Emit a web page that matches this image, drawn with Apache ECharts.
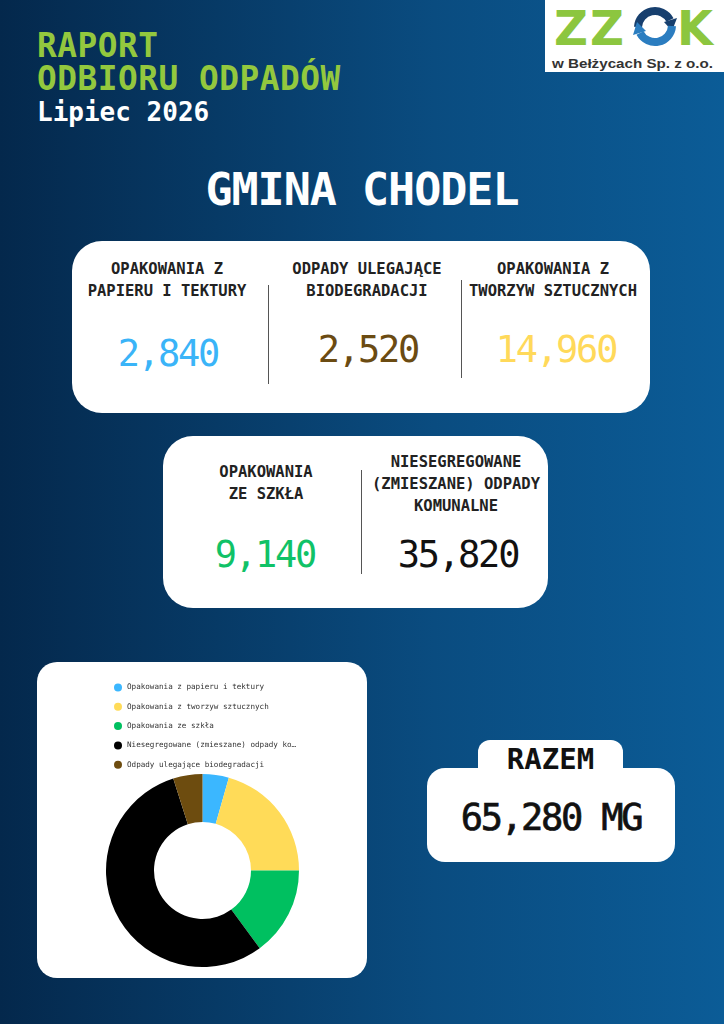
<!DOCTYPE html>
<html lang="pl">
<head>
<meta charset="utf-8">
<script src="https://cdn.jsdelivr.net/npm/echarts@6/dist/echarts.min.js"></script>
<style>
  html, body { margin: 0; padding: 0; }
  body { width: 724px; height: 1024px; overflow: hidden; }
  #page { position: relative; width: 724px; height: 1024px;
    background: linear-gradient(90deg, #04284c 0%, #0a4c80 60%, #0b5c97 100%);
    font-family: "DejaVu Sans Mono", monospace; }
  .abs { position: absolute; }
  .card { position: absolute; background: #fff; }
  .lbl { position: absolute; font-weight: bold; font-size: 15.5px; line-height: 22px; color: #222; text-align: center; white-space: nowrap; }
  .num { position: absolute; font-size: 37px; line-height: 40px; letter-spacing: -2.2px; text-align: center; white-space: nowrap; }
  .div { position: absolute; width: 1.5px; background: #555; }
</style>
</head>
<body>
<div id="page">
  <div class="abs" style="left:37px;top:29.5px;font-size:32.8px;line-height:33.2px;letter-spacing:0.5px;font-weight:bold;color:#93c83e;white-space:nowrap;" id="title"></div>
  <div class="abs" style="left:37px;top:99px;font-size:26px;line-height:26px;font-weight:bold;color:#fff;" id="month"></div>
  <div class="abs" style="left:0;width:724px;top:165px;font-size:45px;line-height:50px;font-weight:bold;color:#fff;text-align:center;letter-spacing:-1px;" id="gmina"></div>

  <!-- logo -->
  <div class="abs" style="left:545px;top:0;width:179px;height:72px;background:#fff;">
    <svg width="179" height="72" viewBox="0 0 179 72">
      <text x="9" y="45" font-family="DejaVu Sans" font-weight="bold" font-size="48" fill="#8cc63f" textLength="34" lengthAdjust="spacingAndGlyphs">Z</text>
      <text x="45" y="45" font-family="DejaVu Sans" font-weight="bold" font-size="48" fill="#8cc63f" textLength="34" lengthAdjust="spacingAndGlyphs">Z</text>
      <path d="M 93 27 A 17 17 0 0 1 125 20" fill="none" stroke="#173f6e" stroke-width="8"/>
      <polygon points="119,22 132,18 127,31" fill="#173f6e"/>
      <path d="M 127 26 A 17 17 0 0 1 95 33" fill="none" stroke="#2b7dc0" stroke-width="8"/>
      <polygon points="101,31 88,35 92,22" fill="#2b7dc0"/>
      <text x="132" y="45" font-family="DejaVu Sans" font-weight="bold" font-size="48" fill="#8cc63f" textLength="36" lengthAdjust="spacingAndGlyphs">K</text>
      <text x="7" y="67.5" font-family="Liberation Sans" font-weight="bold" font-size="12.5" fill="#333" textLength="161" lengthAdjust="spacingAndGlyphs">w Bełżycach  Sp. z o.o.</text>
    </svg>
  </div>

  <!-- card 1 -->
  <div class="card" style="left:72px;top:241px;width:578px;height:172px;border-radius:30px;"></div>
  <div class="div" style="left:267.5px;top:285px;height:99px;"></div>
  <div class="div" style="left:460.5px;top:280px;height:98px;"></div>
  <div class="lbl" id="l0" style="left:67px;width:200px;top:258px;"></div>
  <div class="lbl" id="l1" style="left:267px;width:200px;top:258px;"></div>
  <div class="lbl" id="l2" style="left:453px;width:200px;top:258px;"></div>
  <div class="num" id="n0" style="left:68px;width:200px;top:334px;"></div>
  <div class="num" id="n1" style="left:268px;width:200px;top:330px;"></div>
  <div class="num" id="n2" style="left:456px;width:200px;top:330px;"></div>

  <!-- card 2 -->
  <div class="card" style="left:163px;top:436px;width:385px;height:172px;border-radius:30px;"></div>
  <div class="div" style="left:360.5px;top:470px;height:104px;"></div>
  <div class="lbl" id="l3" style="left:166px;width:200px;top:461px;"></div>
  <div class="lbl" id="l4" style="left:356px;width:200px;top:451px;"></div>
  <div class="num" id="n3" style="left:165px;width:200px;top:535px;"></div>
  <div class="num" id="n4" style="left:358px;width:200px;top:535px;"></div>

  <!-- pie box -->
  <div class="card" style="left:37px;top:662px;width:330px;height:316px;border-radius:20px;"></div>
  <div id="chart" class="abs" style="left:37px;top:662px;width:330px;height:316px;"></div>

  <!-- total -->
  <div class="card" style="left:478px;top:740px;width:145px;height:40px;border-radius:12px;"></div>
  <div class="card" style="left:427px;top:768px;width:248px;height:94px;border-radius:18px;"></div>
  <div class="abs" id="razemLbl" style="left:478px;width:145px;top:743px;font-size:29px;line-height:32px;font-weight:bold;color:#111;text-align:center;"></div>
  <div class="abs" id="razem" style="left:427px;width:248px;top:798px;font-size:37px;line-height:40px;letter-spacing:-2.2px;color:#111;text-align:center;-webkit-text-stroke:0.7px #111;white-space:nowrap;"></div>
</div>

<script>
// ---- data ----
var titleLines = ["RAPORT", "ODBIORU ODPADÓW"];
var monthLabel = "Lipiec 2026";
var gminaLabel = "GMINA CHODEL";
var cardLabels = [
  ["OPAKOWANIA Z", "PAPIERU I TEKTURY"],
  ["ODPADY ULEGAJĄCE", "BIODEGRADACJI"],
  ["OPAKOWANIA Z", "TWORZYW SZTUCZNYCH"],
  ["OPAKOWANIA", "ZE SZKŁA"],
  ["NIESEGREGOWANE", "(ZMIESZANE) ODPADY", "KOMUNALNE"]
];
var cardValues = [2840, 2520, 14960, 9140, 35820];
var cardColors = ["#3ab4f8", "#6b4b12", "#ffd95a", "#10c267", "#111111"];
var totalLabel = "RAZEM";
var totalUnit = "MG";

var pieNames = [
  "Opakowania z papieru i tektury",
  "Opakowania z tworzyw sztucznych",
  "Opakowania ze szkła",
  "Niesegregowane (zmieszane) odpady komunalne",
  "Odpady ulegające biodegradacji"
];
var pieShares = [4.4, 20.6, 14.9, 55.2, 4.9];
var pieColors = ["#3bb7ff", "#ffdb58", "#00c060", "#000000", "#6d4c0f"];

// ---- text ----
function fmt(v) { return v.toLocaleString("en-US"); }
document.getElementById("title").innerHTML = titleLines.join("<br>");
document.getElementById("month").textContent = monthLabel;
document.getElementById("gmina").textContent = gminaLabel;
for (var i = 0; i < cardLabels.length; i++) {
  document.getElementById("l" + i).innerHTML = cardLabels[i].join("<br>");
  var n = document.getElementById("n" + i);
  n.textContent = fmt(cardValues[i]);
  n.style.color = cardColors[i];
}
var total = cardValues.reduce(function (a, b) { return a + b; }, 0);
document.getElementById("razemLbl").textContent = totalLabel;
document.getElementById("razem").textContent = fmt(total) + " " + totalUnit;

// ---- chart ----
var chart = echarts.init(document.getElementById("chart"), null, { renderer: "canvas" });
chart.setOption({
  animation: false,
  backgroundColor: "transparent",
  color: pieColors,
  legend: {
    orient: "vertical",
    left: 72,
    top: 16.5,
    itemWidth: 8,
    itemHeight: 8,
    itemGap: 11.3,
    icon: "circle",
    selectedMode: false,
    data: pieNames,
    textStyle: {
      fontFamily: "DejaVu Sans Mono",
      fontSize: 7.6,
      color: "#333",
      width: 172,
      overflow: "truncate",
      ellipsis: "…"
    }
  },
  series: [{
    type: "pie",
    center: [165.5, 208.5],
    radius: [48.5, 96.5],
    startAngle: 90,
    clockwise: true,
    silent: true,
    label: { show: false },
    labelLine: { show: false },
    data: pieNames.map(function (name, i) { return { name: name, value: pieShares[i] }; })
  }]
});
</script>
</body>
</html>
